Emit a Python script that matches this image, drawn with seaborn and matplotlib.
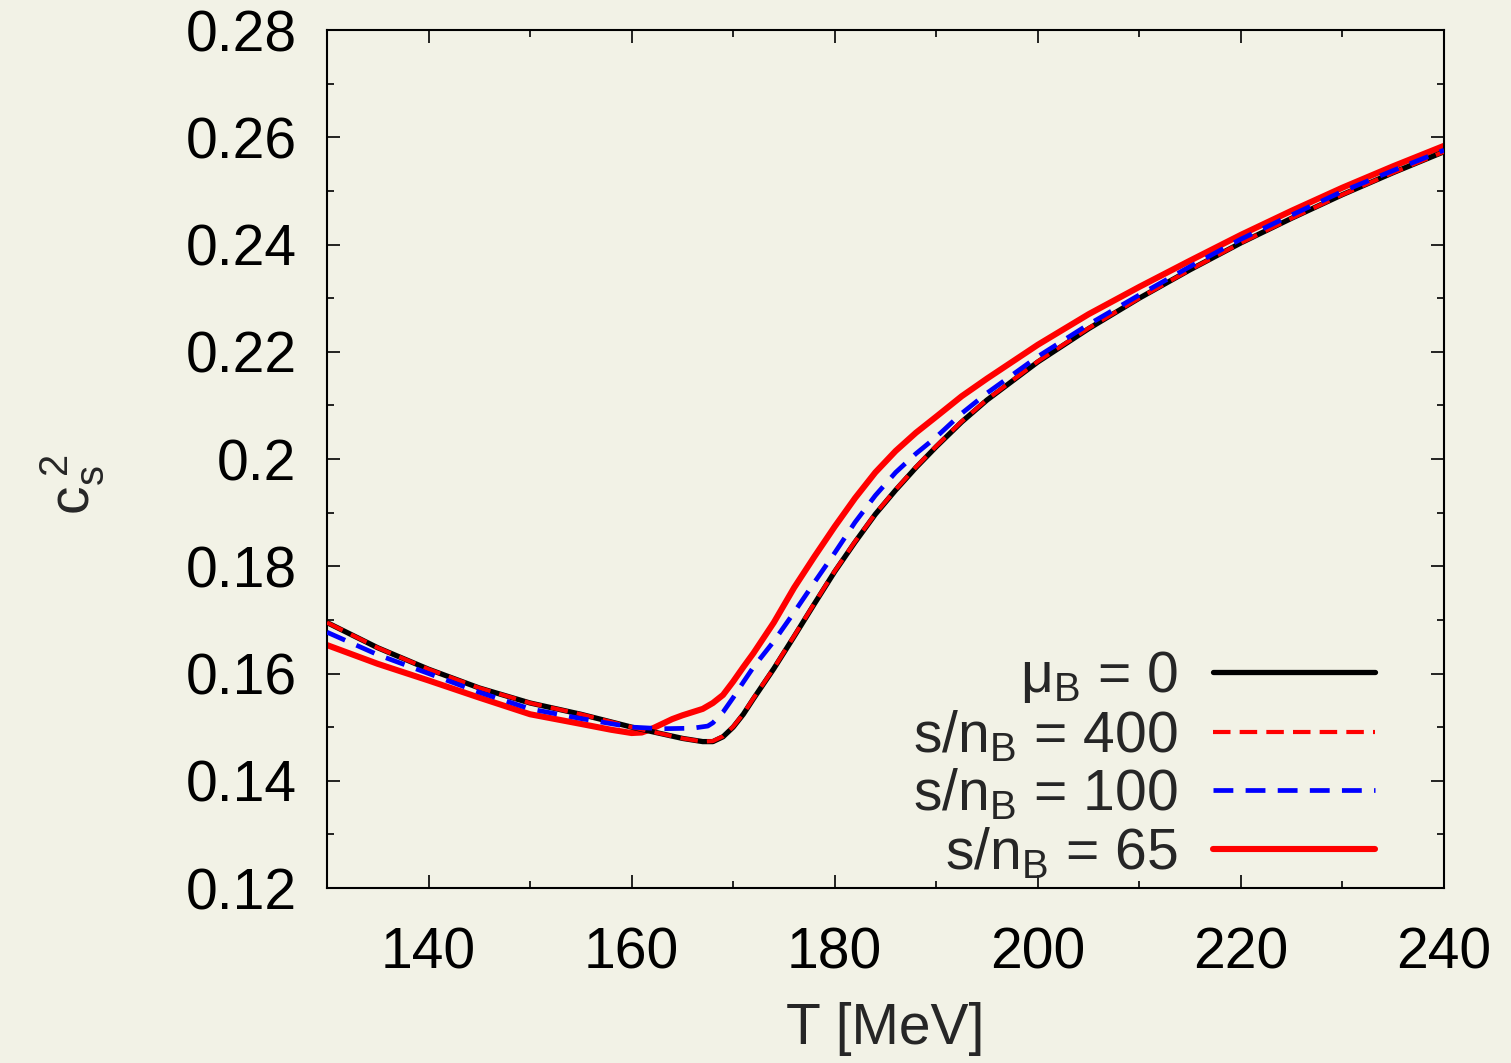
import numpy as np
import pandas as pd
import matplotlib
matplotlib.use("Agg")
import matplotlib.pyplot as plt
from matplotlib.ticker import MultipleLocator
from matplotlib.lines import Line2D
import seaborn as sns

# Squared speed of sound vs temperature along isentropes
T_mu0 = [130, 135, 140, 145, 150, 155, 160, 165, 167, 168, 169, 170, 171, 172, 173,
         174, 176, 178, 180, 182, 184, 186, 188, 190, 192.5, 195, 200, 205, 210,
         215, 220, 225, 230, 235, 240]
cs2_mu0 = [0.1695, 0.1648, 0.1608, 0.1573, 0.1545, 0.1524, 0.1500, 0.1479, 0.1473,
           0.1473, 0.1482, 0.1500, 0.1524, 0.1553, 0.1581, 0.1609, 0.1669, 0.1730,
           0.1790, 0.1845, 0.1897, 0.1942, 0.1984, 0.2023, 0.2069, 0.2110, 0.2181,
           0.2243, 0.2300, 0.2353, 0.2403, 0.2449, 0.2493, 0.2534, 0.2573]

T_400 = T_mu0
cs2_400 = [0.1695, 0.1648, 0.1608, 0.1573, 0.1545, 0.1524, 0.1500, 0.1479, 0.1473,
           0.1474, 0.1483, 0.1501, 0.1525, 0.1554, 0.1582, 0.1610, 0.1670, 0.1731,
           0.1791, 0.1846, 0.1898, 0.1943, 0.1985, 0.2024, 0.2070, 0.2111, 0.2182,
           0.2244, 0.2300, 0.2353, 0.2403, 0.2449, 0.2493, 0.2534, 0.2573]

T_100 = [130, 135, 140, 145, 150, 155, 160, 163, 166, 167.5, 168, 169, 170, 171,
         172, 174, 176, 178, 180, 182, 184, 186, 188, 190, 192.5, 195, 200, 205,
         210, 215, 220, 225, 230, 235, 240]
cs2_100 = [0.1677, 0.1635, 0.1600, 0.1565, 0.1534, 0.1516, 0.1500, 0.1497, 0.1498,
           0.1502, 0.1508, 0.1528, 0.1555, 0.1584, 0.1612, 0.1660, 0.1714, 0.1770,
           0.1825, 0.1882, 0.1932, 0.1975, 0.2010, 0.2041, 0.2085, 0.2123, 0.2191,
           0.2251, 0.2306, 0.2359, 0.2410, 0.2455, 0.2499, 0.2538, 0.2576]

T_65 = [130, 135, 140, 145, 150, 155, 158, 160, 161, 162, 163, 164, 165, 166, 167,
        168, 169, 170, 171, 172, 174, 176, 178, 180, 182, 184, 186, 188, 190,
        192.5, 195, 200, 205, 210, 215, 220, 225, 230, 235, 240]
cs2_65 = [0.1653, 0.1618, 0.1587, 0.1555, 0.1524, 0.1506, 0.1495, 0.1489, 0.1490,
          0.1497, 0.1506, 0.1515, 0.1522, 0.1528, 0.1534, 0.1545, 0.1560, 0.1585,
          0.1612, 0.1638, 0.1695, 0.1760, 0.1818, 0.1874, 0.1927, 0.1975, 0.2015,
          0.2049, 0.2079, 0.2117, 0.2150, 0.2213, 0.2270, 0.2321, 0.2370, 0.2418,
          0.2463, 0.2506, 0.2546, 0.2584]

labels = [r"$\mathregular{\mu_B}$ = 0", r"s/n$\mathregular{_B}$ = 400",
          r"s/n$\mathregular{_B}$ = 100", r"s/n$\mathregular{_B}$ = 65"]

sns.set_theme(style="ticks")
BG = "#f2f2e6"
plt.rcParams.update({
    "font.family": ["Liberation Sans", "DejaVu Sans"],
    "mathtext.fontset": "custom",
    "mathtext.rm": "Liberation Sans",
    "mathtext.it": "Liberation Sans",
    "mathtext.default": "regular",
    "figure.facecolor": BG,
    "axes.facecolor": BG,
    "savefig.facecolor": BG,
})

fig = plt.figure(figsize=(15.11, 10.63), dpi=100)
ax = fig.add_axes([327 / 1511, 1 - 888 / 1063, (1444 - 327) / 1511, (888 - 30) / 1063])

df65 = pd.DataFrame({"T": T_65, "cs2": cs2_65})
df0 = pd.DataFrame({"T": T_mu0, "cs2": cs2_mu0})
df400 = pd.DataFrame({"T": T_400, "cs2": cs2_400})
df100 = pd.DataFrame({"T": T_100, "cs2": cs2_100})

sns.lineplot(data=df65, x="T", y="cs2", ax=ax, color="#ff0000", lw=4.4,
             estimator=None, zorder=2)
sns.lineplot(data=df0, x="T", y="cs2", ax=ax, color="black", lw=3.8,
             estimator=None, zorder=3)
sns.lineplot(data=df400, x="T", y="cs2", ax=ax, color="#ff0000", lw=3.0,
             estimator=None, zorder=4)
sns.lineplot(data=df100, x="T", y="cs2", ax=ax, color="#0000ff", lw=3.4,
             estimator=None, zorder=5)

lines = ax.get_lines()
l65, l0, l400, l100 = lines[0], lines[1], lines[2], lines[3]
l400.set_dashes((4.2, 2.2))
l100.set_dashes((4.2, 2.6))
for ln in lines:
    ln.set_solid_capstyle("butt")
    ln.set_dash_capstyle("butt")
    ln.set_solid_joinstyle("round")

ax.set_xlim(130, 240)
ax.set_ylim(0.12, 0.28)
ax.xaxis.set_minor_locator(MultipleLocator(10))
ax.yaxis.set_minor_locator(MultipleLocator(0.01))
ax.set_xticks([140, 160, 180, 200, 220, 240])
ax.set_xticklabels(["140", "160", "180", "200", "220", "240"])
yt = [0.12, 0.14, 0.16, 0.18, 0.2, 0.22, 0.24, 0.26, 0.28]
ax.set_yticks(yt)
ax.set_yticklabels(["0.12", "0.14", "0.16", "0.18", "0.2", "0.22", "0.24", "0.26", "0.28"])

ax.tick_params(which="both", direction="in", top=True, right=True, colors="black",
               labelsize=41, width=1.2)
ax.tick_params(which="major", length=9.5)
ax.tick_params(which="minor", length=5)
ax.tick_params(axis="y", which="major", pad=22)
ax.tick_params(axis="x", which="major", pad=28)
for s in ax.spines.values():
    s.set_visible(True)
    s.set_linewidth(1.5)
    s.set_color("black")

ax.set_xlabel("T [MeV]", fontsize=41)
ax.xaxis.set_label_coords(0.5, -0.133)
ax.set_ylabel(r"$\mathregular{c_s^{\;2}}$", fontsize=41)
ax.yaxis.set_label_coords(-0.198, 0.47)

handles = [
    Line2D([], [], color="black", lw=3.8),
    Line2D([], [], color="#ff0000", lw=3.0, dashes=(4.2, 2.2)),
    Line2D([], [], color="#0000ff", lw=3.4, dashes=(4.2, 2.6)),
    Line2D([], [], color="#ff0000", lw=4.4),
]
leg = ax.legend(handles, labels, loc="lower right", frameon=False, fontsize=41,
                markerfirst=False, handlelength=2.85, handletextpad=0.62,
                labelspacing=0.06, borderaxespad=0.0,
                bbox_to_anchor=(0.959, -0.018))

fig.savefig("out.png", dpi=100)
